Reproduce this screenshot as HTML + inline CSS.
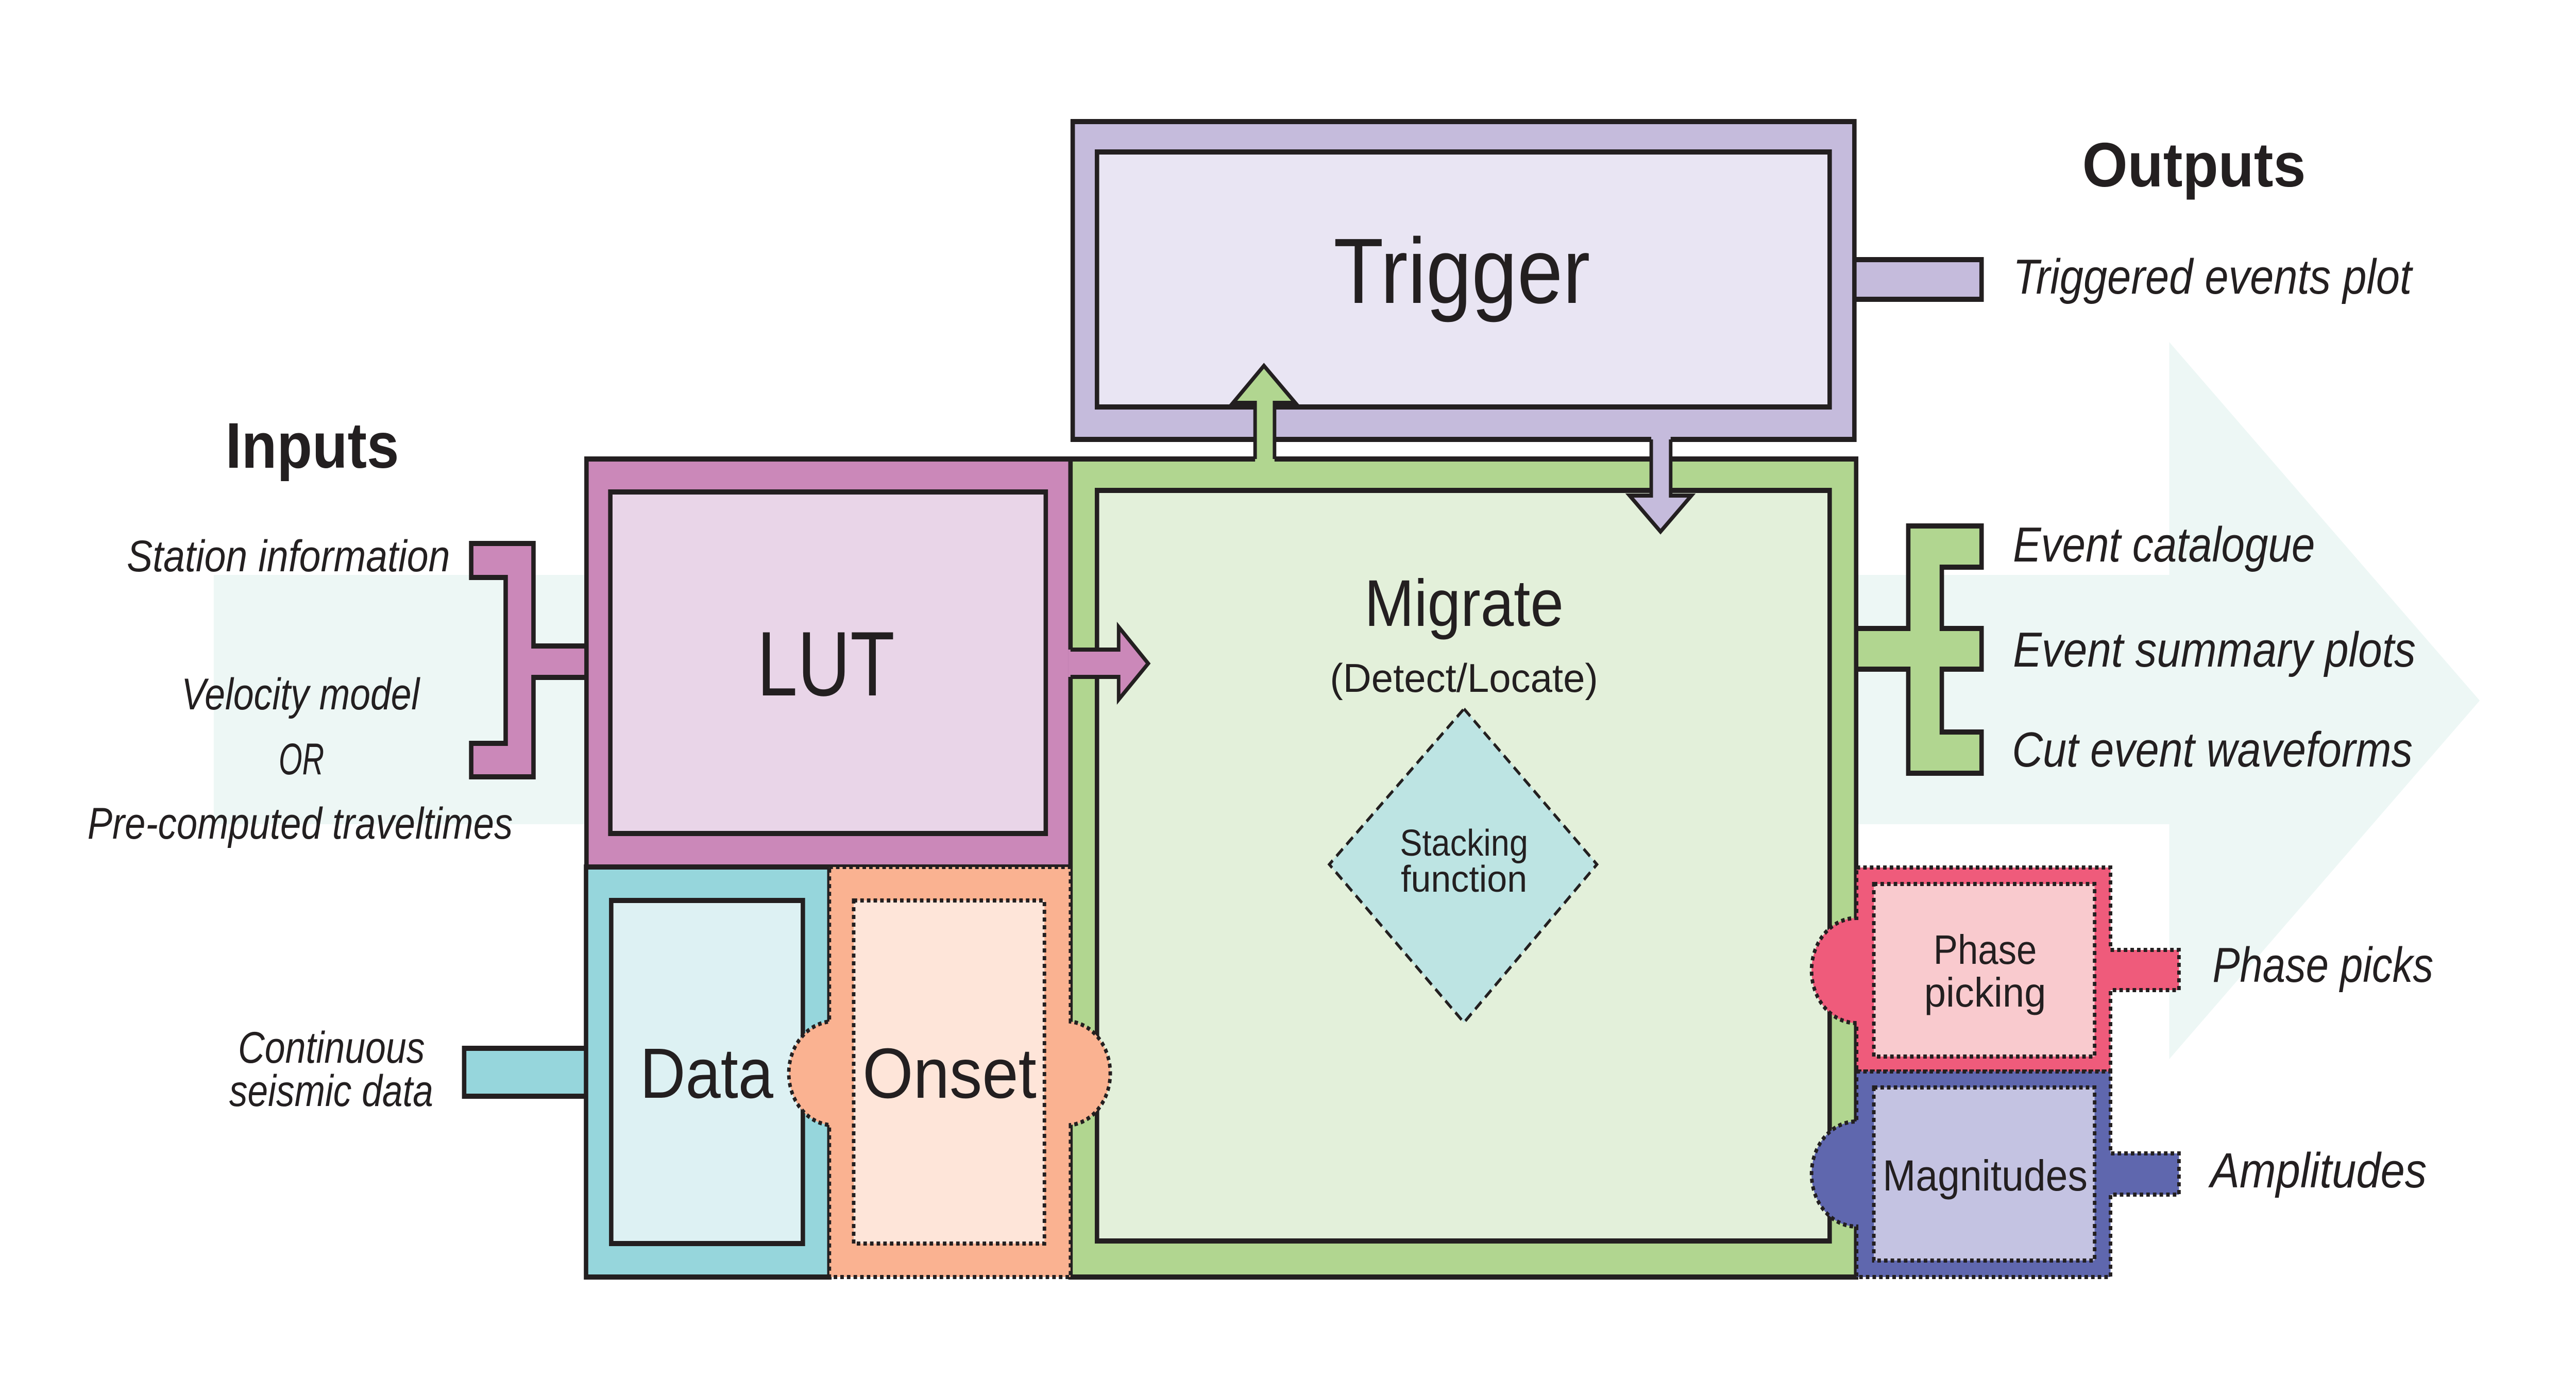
<!DOCTYPE html>
<html><head><meta charset="utf-8"><style>
html,body{margin:0;padding:0;background:#fff;overflow:hidden;width:100%;height:100%}
svg{display:block;position:fixed;left:0;top:0;width:100vw;height:100vh}
text{font-family:"Liberation Sans",sans-serif;fill:#231f20}
.i{font-style:italic}
</style></head><body>
<svg viewBox="0 0 5833 2708" preserveAspectRatio="none" xmlns="http://www.w3.org/2000/svg">
<rect width="5833" height="2708" fill="#fff"/>
<polygon points="484,1116 4912,1116 4912,664 5615,1360 4912,2056 4912,1600 484,1600" fill="#edf7f5"/>
<g stroke="#231f20" stroke-width="10" stroke-linejoin="miter">
<polygon points="1067,1055 1208,1055 1208,1254 1330,1254 1330,1315 1208,1315 1208,1508 1067,1508 1067,1443 1145,1443 1145,1121 1067,1121" fill="#cb88b9"/>
<polygon points="4200,1220 4321,1220 4321,1021 4487,1021 4487,1101 4397,1101 4397,1220 4487,1220 4487,1299 4397,1299 4397,1421 4487,1421 4487,1501 4321,1501 4321,1299 4200,1299" fill="#b1d690"/>
<rect x="4190" y="504" width="297" height="77" fill="#c5bbdc"/>
<rect x="1051" y="2035" width="285" height="93" fill="#96d6dc"/>
<rect x="2429" y="236" width="1770" height="617" fill="#c5bbdc"/>
<rect x="2484" y="295" width="1659" height="495" fill="#e9e5f3"/>
<rect x="1328" y="891" width="1096" height="792" fill="#cb88b9"/>
<rect x="1382" y="955" width="986" height="663" fill="#e9d5e8"/>
<rect x="2424" y="891" width="1779" height="1588" fill="#b1d690"/>
<rect x="2484" y="952" width="1659" height="1457" fill="#e3f0da"/>
<rect x="1327" y="1683" width="551" height="796" fill="#96d6dc"/>
<rect x="1384" y="1748" width="434" height="666" fill="#ddf1f3"/>
</g>
<g stroke="#231f20" stroke-width="8" stroke-dasharray="8 7">
<path d="M1878,1683 H2424 V1983 A100,101 0 0 1 2424,2184 V2479 H1878 V2184 A102,101 0 0 1 1878,1983 Z" fill="#fab291"/>
<rect x="1933" y="1748" width="432" height="666" fill="#fee5d9"/>
<path d="M4204,1684 H4779 V1844 H4934 V1922 H4779 V2080 H4204 V1986 A102,102 0 0 1 4204,1782 Z" fill="#ef5b7b"/>
<rect x="4243" y="1716" width="500" height="335" fill="#f9cace"/>
<path d="M4204,2080 H4779 V2239 H4934 V2319 H4779 V2479 H4204 V2381 A102,102 0 0 1 4204,2177 Z" fill="#5f67ae"/>
<rect x="4243" y="2111" width="500" height="336" fill="#c4c3e2"/>
</g>
<polygon points="3315,1376 3616,1678 3315,1985 3010,1678" fill="#bde4e3" stroke="#231f20" stroke-width="6" stroke-dasharray="20 12"/>
<polygon points="2842,896 2842,782 2792,782 2862,710 2933,782 2886,782 2886,896" fill="#b1d690"/>
<polyline points="2842,891 2842,782 2792,782 2862,710 2933,782 2886,782 2886,891" fill="none" stroke="#231f20" stroke-width="8"/>
<polygon points="3739,848 3739,962 3690,962 3760,1032 3830,962 3783,962 3783,848" fill="#c5bbdc"/>
<polyline points="3739,853 3739,962 3690,962 3760,1032 3830,962 3783,962 3783,853" fill="none" stroke="#231f20" stroke-width="8"/>
<polygon points="2419,1261 2533,1261 2533,1217 2600,1288 2533,1358 2533,1314 2419,1314" fill="#cb88b9"/>
<polyline points="2424,1261 2533,1261 2533,1217 2600,1288 2533,1358 2533,1314 2424,1314" fill="none" stroke="#231f20" stroke-width="8"/>

<text x="707" y="908" font-size="125" font-weight="bold" text-anchor="middle" textLength="393" lengthAdjust="spacingAndGlyphs">Inputs</text>
<text x="4968" y="362" font-size="122" font-weight="bold" text-anchor="middle" textLength="506" lengthAdjust="spacingAndGlyphs">Outputs</text>
<g font-size="86">
<text x="287" y="1109" class="i" textLength="732" lengthAdjust="spacingAndGlyphs">Station information</text>
<text x="411" y="1377" class="i" textLength="539" lengthAdjust="spacingAndGlyphs">Velocity model</text>
<text x="631" y="1503" class="i" textLength="103" lengthAdjust="spacingAndGlyphs">OR</text>
<text x="198" y="1628" class="i" textLength="963" lengthAdjust="spacingAndGlyphs">Pre-computed traveltimes</text>
<text x="539" y="2063" class="i" textLength="423" lengthAdjust="spacingAndGlyphs">Continuous</text>
<text x="519" y="2147" class="i" textLength="462" lengthAdjust="spacingAndGlyphs">seismic data</text>
</g>
<g font-size="96">
<text x="4558" y="570" class="i" textLength="903" lengthAdjust="spacingAndGlyphs">Triggered events plot</text>
<text x="4558" y="1090" class="i" textLength="684" lengthAdjust="spacingAndGlyphs">Event catalogue</text>
<text x="4558" y="1294" class="i" textLength="912" lengthAdjust="spacingAndGlyphs">Event summary plots</text>
<text x="4556" y="1488" class="i" textLength="907" lengthAdjust="spacingAndGlyphs">Cut event waveforms</text>
<text x="5010" y="1906" class="i" textLength="500" lengthAdjust="spacingAndGlyphs">Phase picks</text>
<text x="5005" y="2305" class="i" textLength="490" lengthAdjust="spacingAndGlyphs">Amplitudes</text>
</g>
<text x="3310" y="588" font-size="180" text-anchor="middle" textLength="581" lengthAdjust="spacingAndGlyphs">Trigger</text>
<text x="1870" y="1350" font-size="178" text-anchor="middle" textLength="312" lengthAdjust="spacingAndGlyphs">LUT</text>
<text x="3315" y="1215" font-size="128" text-anchor="middle" textLength="451" lengthAdjust="spacingAndGlyphs">Migrate</text>
<text x="3315" y="1343" font-size="78" text-anchor="middle" textLength="607" lengthAdjust="spacingAndGlyphs">(Detect/Locate)</text>
<text x="3315" y="1661" font-size="72" text-anchor="middle" textLength="290" lengthAdjust="spacingAndGlyphs">Stacking</text>
<text x="3315" y="1731" font-size="72" text-anchor="middle" textLength="286" lengthAdjust="spacingAndGlyphs">function</text>
<text x="1600" y="2131" font-size="138" text-anchor="middle" textLength="302" lengthAdjust="spacingAndGlyphs">Data</text>
<text x="2150" y="2131" font-size="138" text-anchor="middle" textLength="394" lengthAdjust="spacingAndGlyphs">Onset</text>
<text x="4495" y="1871" font-size="80" text-anchor="middle" textLength="234" lengthAdjust="spacingAndGlyphs">Phase</text>
<text x="4495" y="1954" font-size="80" text-anchor="middle" textLength="276" lengthAdjust="spacingAndGlyphs">picking</text>
<text x="4495" y="2311" font-size="84" text-anchor="middle" textLength="464" lengthAdjust="spacingAndGlyphs">Magnitudes</text>
</svg>
</body></html>
